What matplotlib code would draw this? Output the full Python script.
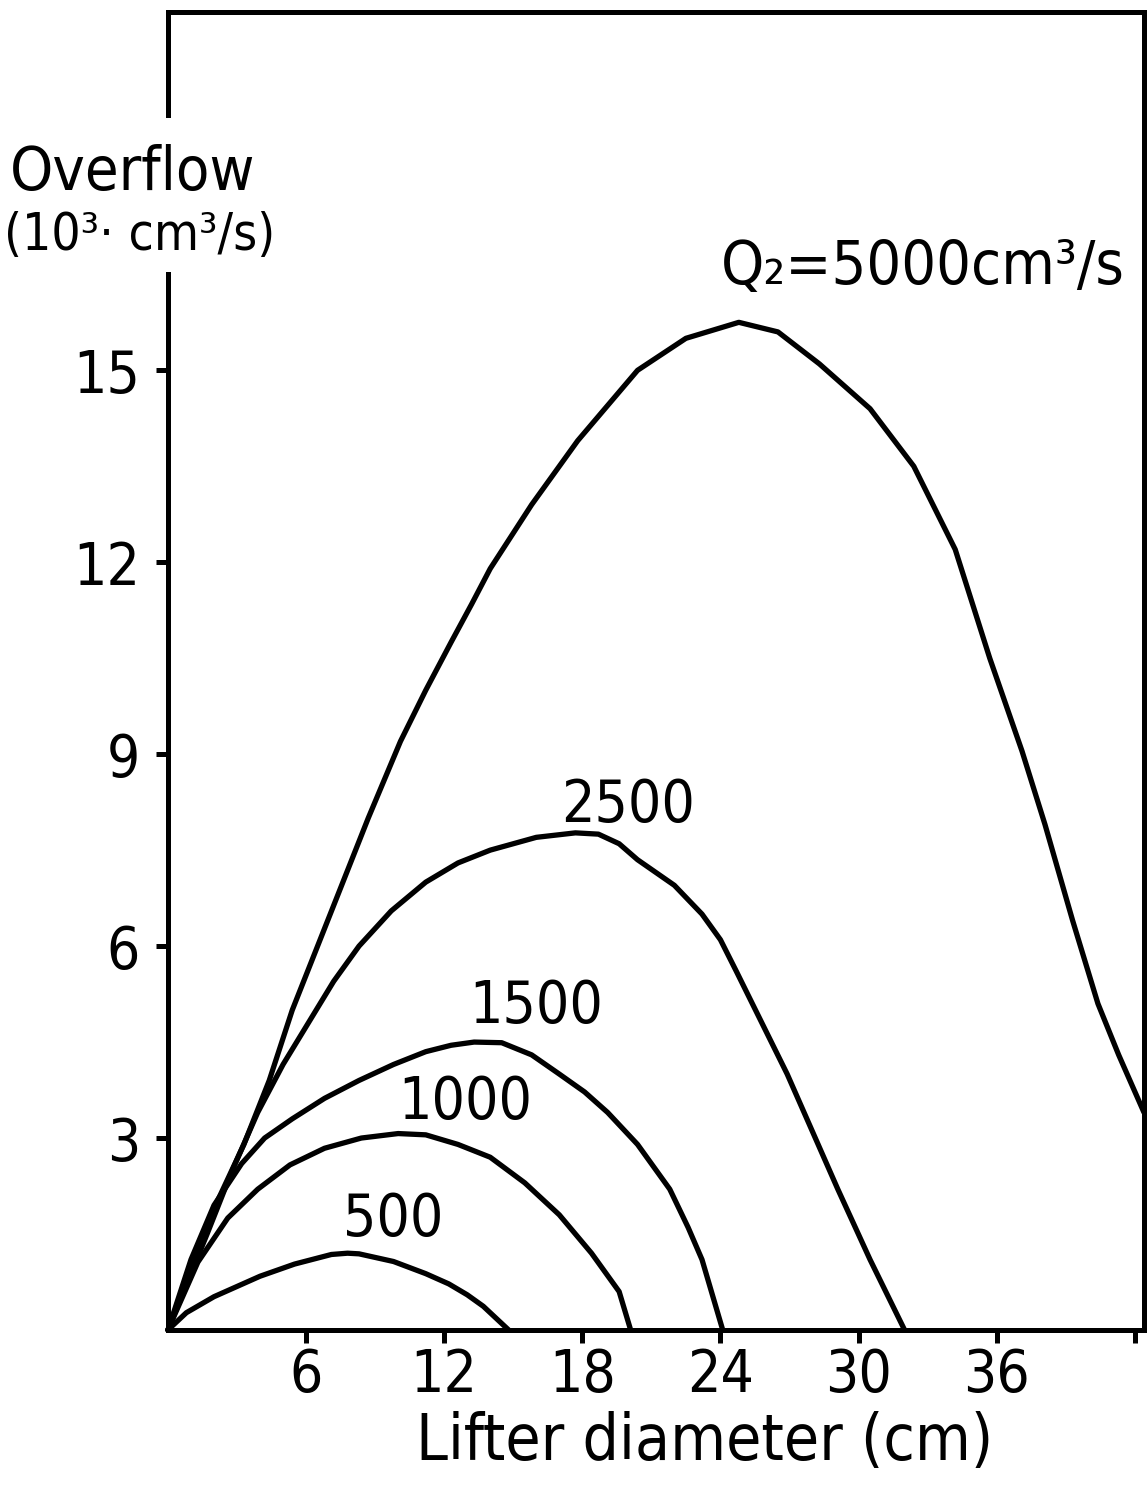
import matplotlib
matplotlib.use("Agg")
import matplotlib.pyplot as plt
from matplotlib import font_manager
from matplotlib.patches import Rectangle

# narrow lettering if a condensed face is around, Roboto otherwise
condensed = [f for f in font_manager.fontManager.ttflist
             if f.name == 'DejaVu Sans' and 'Condensed' in f.fname]
if condensed:
    plt.rcParams['font.family'] = ['DejaVu Sans']
    plt.rcParams['font.stretch'] = 'condensed'
else:
    plt.rcParams['font.family'] = ['Roboto', 'DejaVu Sans']

# overflow (10^3 cm^3/s) against lifter diameter (cm), one curve per Q2
d_5000 = [0, 1.0, 2.0, 3.3, 4.4, 5.4, 6.5, 7.6, 8.7, 10.1, 11.2, 12.3, 13.2, 14.0, 15.8,
          17.8, 20.4, 22.5, 24.8, 26.5, 28.3, 30.5, 32.4, 34.2, 35.7, 37.1, 38.1, 39.3,
          40.4, 41.3, 42.4]
q_5000 = [0, 1.0, 1.9, 2.9, 3.9, 5.0, 6.0, 7.0, 8.0, 9.2, 10.0, 10.75, 11.35, 11.9, 12.9,
          13.9, 15.0, 15.5, 15.75, 15.6, 15.1, 14.4, 13.5, 12.2, 10.5, 9.05, 7.9, 6.4,
          5.1, 4.3, 3.4]

d_2500 = [0, 1.7, 2.8, 3.9, 5.0, 6.1, 7.2, 8.3, 9.7, 11.2, 12.6, 14.0, 16.0, 17.7, 18.7,
          19.6, 20.4, 22.0, 23.2, 24.0, 24.7, 25.8, 26.9, 28.0, 29.1, 30.5, 32.0]
q_2500 = [0, 1.5, 2.5, 3.4, 4.15, 4.8, 5.45, 6.0, 6.55, 7.0, 7.3, 7.5, 7.7, 7.77, 7.75,
          7.6, 7.35, 6.95, 6.5, 6.1, 5.6, 4.8, 4.0, 3.1, 2.2, 1.1, 0]

d_1500 = [0, 1.0, 2.0, 3.2, 4.2, 5.4, 6.8, 8.3, 9.8, 11.2, 12.3, 13.3, 14.5, 15.8, 17.0,
          18.1, 19.1, 20.4, 21.8, 22.6, 23.2, 24.1]
q_1500 = [0, 1.1, 1.95, 2.6, 3.0, 3.3, 3.62, 3.9, 4.15, 4.35, 4.45, 4.5, 4.49, 4.3, 4.0,
          3.72, 3.4, 2.9, 2.2, 1.6, 1.1, 0]

d_1000 = [0, 1.3, 2.6, 3.9, 5.3, 6.8, 8.4, 10.0, 11.2, 12.6, 14.0, 15.5, 17.0, 18.4,
          19.6, 20.1]
q_1000 = [0, 1.06, 1.75, 2.2, 2.58, 2.84, 3.0, 3.07, 3.05, 2.9, 2.7, 2.3, 1.8, 1.2,
          0.6, 0]

d_500 = [0, 0.8, 2.0, 3.0, 4.0, 5.5, 7.1, 7.8, 8.3, 9.8, 11.2, 12.2, 13.0, 13.7, 14.8]
q_500 = [0, 0.27, 0.52, 0.68, 0.84, 1.03, 1.18, 1.2, 1.19, 1.07, 0.88, 0.72, 0.55,
         0.37, 0]

curve_labels = ['Q\u2082=5000cm\u00b3/s', '2500', '1500', '1000', '500']
label_pos = [(32.8, 16.6), (20.0, 8.2), (16.0, 5.06), (12.9, 3.55), (9.8, 1.72)]

x_ticks = [6, 12, 18, 24, 30, 36, 42]
x_ticklabels = ['6', '12', '18', '24', '30', '36', '']
y_ticks = [3, 6, 9, 12, 15]

fig = plt.figure(figsize=(11.48, 14.86), dpi=100)
ax = fig.add_axes([0.1463, 0.105, 0.8502, 0.8869])

for d, q in [(d_5000, q_5000), (d_2500, q_2500), (d_1500, q_1500),
             (d_1000, q_1000), (d_500, q_500)]:
    ax.plot(d, q, color='black', linewidth=3.8, solid_joinstyle='round',
            solid_capstyle='round', clip_on=False)

for text, (x, y) in zip(curve_labels, label_pos):
    ax.text(x, y, text, fontsize=44 if text.startswith('Q') else 42,
            ha='center', va='center')

ax.set_xlim(0, 42.4)
ax.set_ylim(0, 20.6)
ax.set_xticks(x_ticks)
ax.set_xticklabels(x_ticklabels)
ax.set_yticks(y_ticks)
ax.tick_params(axis='both', direction='out', length=9, width=3.6, labelsize=42)
ax.tick_params(axis='x', pad=3)
ax.tick_params(axis='y', pad=11)
for sp in ax.spines.values():
    sp.set_linewidth(3.6)

fig.text(705 / 1148, 1 - 1460 / 1486, 'Lifter diameter (cm)', fontsize=46,
         ha='center', va='baseline')

# y axis title sits over a gap in the left spine
fig.patches.append(Rectangle((150 / 1148, 1 - 272 / 1486), 40 / 1148, 154 / 1486,
                             transform=fig.transFigure, facecolor='white',
                             edgecolor='none', zorder=5))
fig.text(10 / 1148, 1 - 190 / 1486, 'Overflow', fontsize=44, va='baseline', zorder=6)
fig.text(4 / 1148, 1 - 250 / 1486, '(10\u00b3\u00b7 cm\u00b3/s)', fontsize=37,
         va='baseline', zorder=6)

fig.savefig('out.png', dpi=100, facecolor='white')
